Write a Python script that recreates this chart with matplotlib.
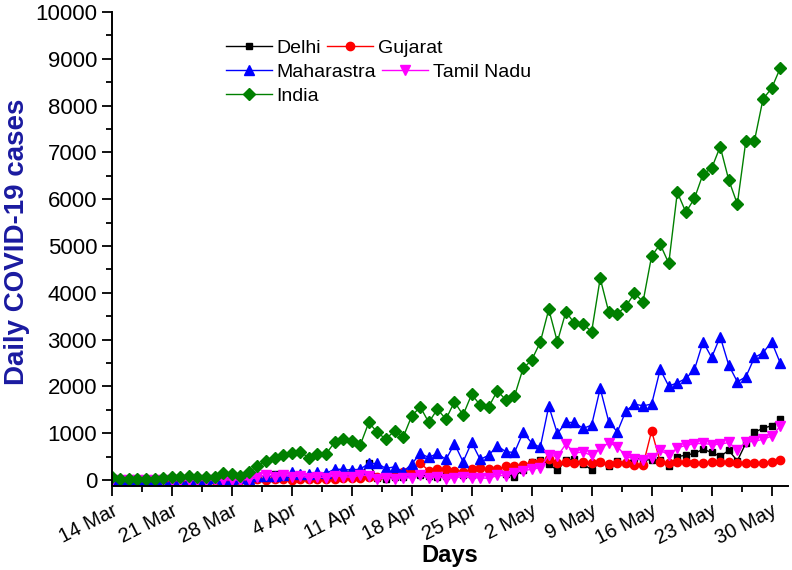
#Daily COVID-19 cases in India and selected states
#14 Mar to 31 May 2020

import numpy as np
import pandas as pd
import matplotlib
matplotlib.use("Agg")
import matplotlib.pyplot as plt
from matplotlib.ticker import MultipleLocator, AutoMinorLocator

plt.rcParams['font.family'] = ['Liberation Sans', 'DejaVu Sans']

#Dates on the x axis:
dates = pd.date_range("2020-03-14", "2020-05-31", freq="D")
tick_dates = pd.date_range("2020-03-14", "2020-05-30", freq="7D")
tick_labels = ["14 Mar", "21 Mar", "28 Mar", "4 Apr", "11 Apr", "18 Apr",
               "25 Apr", "2 May", "9 May", "16 May", "23 May", "30 May"]

#Daily cases:
delhi = [1, 0, 1, 3, 2, 1, 7, 2, 3, 3, 4, 5, 3, 4, 5, 23, 25, 23,
         32, 141, 93, 59, 58, 20, 51, 93, 51, 183, 166, 85, 356, 51, 17, 62,
         67, 186, 110, 78, 75, 92, 138, 111, 111, 293, 190, 206, 125, 76,
         223, 384, 427, 349, 206, 428, 448, 338, 224, 381, 310, 406, 359,
         472, 425, 438, 422, 299, 500, 534, 571, 660, 591, 508, 635, 412,
         792, 1024, 1106, 1163, 1295]
gujarat = [0, 0, 0, 0, 0, 0, 5, 2, 7, 4, 3, 8, 5, 11, 5, 8, 6,
           15, 10, 17, 20, 8, 20, 22, 25, 23, 30, 55, 40, 55, 60, 71, 128,
           150, 170, 200, 367, 200, 230, 230,
           205, 178, 228, 249, 228, 228, 306, 306, 320, 356, 377, 441, 370,
           377, 356, 377, 370, 392, 342, 370, 356, 313, 320, 1050, 392, 356,
           377, 377, 356, 356, 377, 377, 392, 370, 370, 356, 370, 392, 427]
maharashtra = [2, 5, 6, 7, 3, 11, 12, 10, 10, 15, 23, 20, 35, 20, 33, 37, 20,
               82, 88, 81, 115, 164, 128, 128, 164, 142, 235, 228, 214, 235,
               356, 356, 249, 285, 178, 342, 570, 484, 570, 441,
               776, 392, 805, 441, 534, 733, 605, 591, 1018, 797, 698, 1581,
               997, 1232, 1232, 1104, 1175, 1958, 1246, 1030, 1480, 1623,
               1588, 1623, 2364, 2008, 2079, 2172, 2364, 2955, 2620, 3062,
               2456, 2100, 2207, 2620, 2720, 2955, 2506]
tamil_nadu = [0, 0, 0, 0, 0, 0, 1, 0, 0, 2, 1, 3, 6, 3, 8, 0, 17,
              57, 110, 75, 102, 74, 86, 50, 69, 48, 96, 77, 58, 106, 98, 31,
              38, 25, 56, 49, 105, 43, 76, 33, 54, 72, 50, 50, 35, 100, 95,
              161, 203, 231, 266, 527, 508, 771, 580, 600, 526, 669, 798, 716,
              509, 447, 434, 477, 639, 536, 688, 743, 776, 786, 759, 765, 805,
              646, 817, 827, 874, 938, 1149]
india = [57, 14, 14, 14, 21, 14, 43, 57, 57, 85, 57, 71, 57, 142, 128, 93, 171,
         299, 413, 477, 534, 570, 605, 477, 556, 556, 805, 869, 840, 748,
         1232, 1018, 876, 1054, 912, 1367, 1566, 1232, 1516, 1303,
         1673, 1389, 1831, 1603, 1567, 1909, 1710, 1795, 2386, 2564, 2942,
         3647, 2956, 3597, 3348, 3334, 3170, 4310, 3590, 3550, 3718, 3989,
         3811, 4787, 5037, 4631, 6148, 5721, 6020, 6539, 6661, 7123, 6411,
         5898, 7251, 7251, 8142, 8370, 8798]

fig = plt.figure(figsize=(7.92, 5.70), dpi=100)
ax = fig.add_axes([0.141, 0.147, 0.854, 0.832])

#Plot each series:
l1, = ax.plot(dates, delhi, color="black", marker="s", ms=5, lw=1, label="Delhi")
l2, = ax.plot(dates, gujarat, color="red", marker="o", ms=6, lw=1, label="Gujarat")
l3, = ax.plot(dates, maharashtra, color="blue", marker="^", ms=6.5, lw=1, label="Maharastra")
l4, = ax.plot(dates, tamil_nadu, color="magenta", marker="v", ms=6.5, lw=1, label="Tamil Nadu")
l5, = ax.plot(dates, india, color="green", marker="D", ms=5.8, lw=1, label="India")

#Axes limits and ticks:
ax.set_xlim(dates[0], dates[-1] + pd.Timedelta(hours=22))
ax.set_ylim(-130, 10000)
ax.set_xticks(tick_dates)
ax.set_xticklabels(tick_labels, rotation=27, ha="right", rotation_mode="anchor")
ax.xaxis.set_minor_locator(AutoMinorLocator(2))
ax.yaxis.set_major_locator(MultipleLocator(1000))
ax.yaxis.set_minor_locator(MultipleLocator(500))
ax.tick_params(which="major", direction="out", length=7, width=1.3)
ax.tick_params(which="minor", direction="out", length=4, width=1.3)
ax.tick_params(axis="y", labelsize=16)
ax.tick_params(axis="x", labelsize=14.5)

for side in ["top", "right"]:
    ax.spines[side].set_visible(False)
for side in ["left", "bottom"]:
    ax.spines[side].set_linewidth(1.4)

ax.set_xlabel("Days", fontsize=17, fontweight="bold")
ax.xaxis.set_label_coords(0.5, -0.121)
ax.set_ylabel("Daily COVID-19 cases", fontsize=20, fontweight="bold",
              color="#1a1aa0")
ax.yaxis.set_label_coords(-0.121, 0.515)

#Legend rows flow one after the other, one legend per row:
rows = [([l1, l2], 0.9234), ([l3, l4], 0.874), ([l5], 0.8234)]
for i, (handles, y) in enumerate(rows):
    leg = ax.legend(handles=handles, ncol=len(handles), frameon=False,
                    fontsize=14, loc="center left", bbox_to_anchor=(0.169, y),
                    handlelength=2.35, handletextpad=0.26, columnspacing=0.3,
                    borderpad=0, borderaxespad=0)
    if i < len(rows) - 1:
        ax.add_artist(leg)

plt.savefig("out.png", dpi=100)
